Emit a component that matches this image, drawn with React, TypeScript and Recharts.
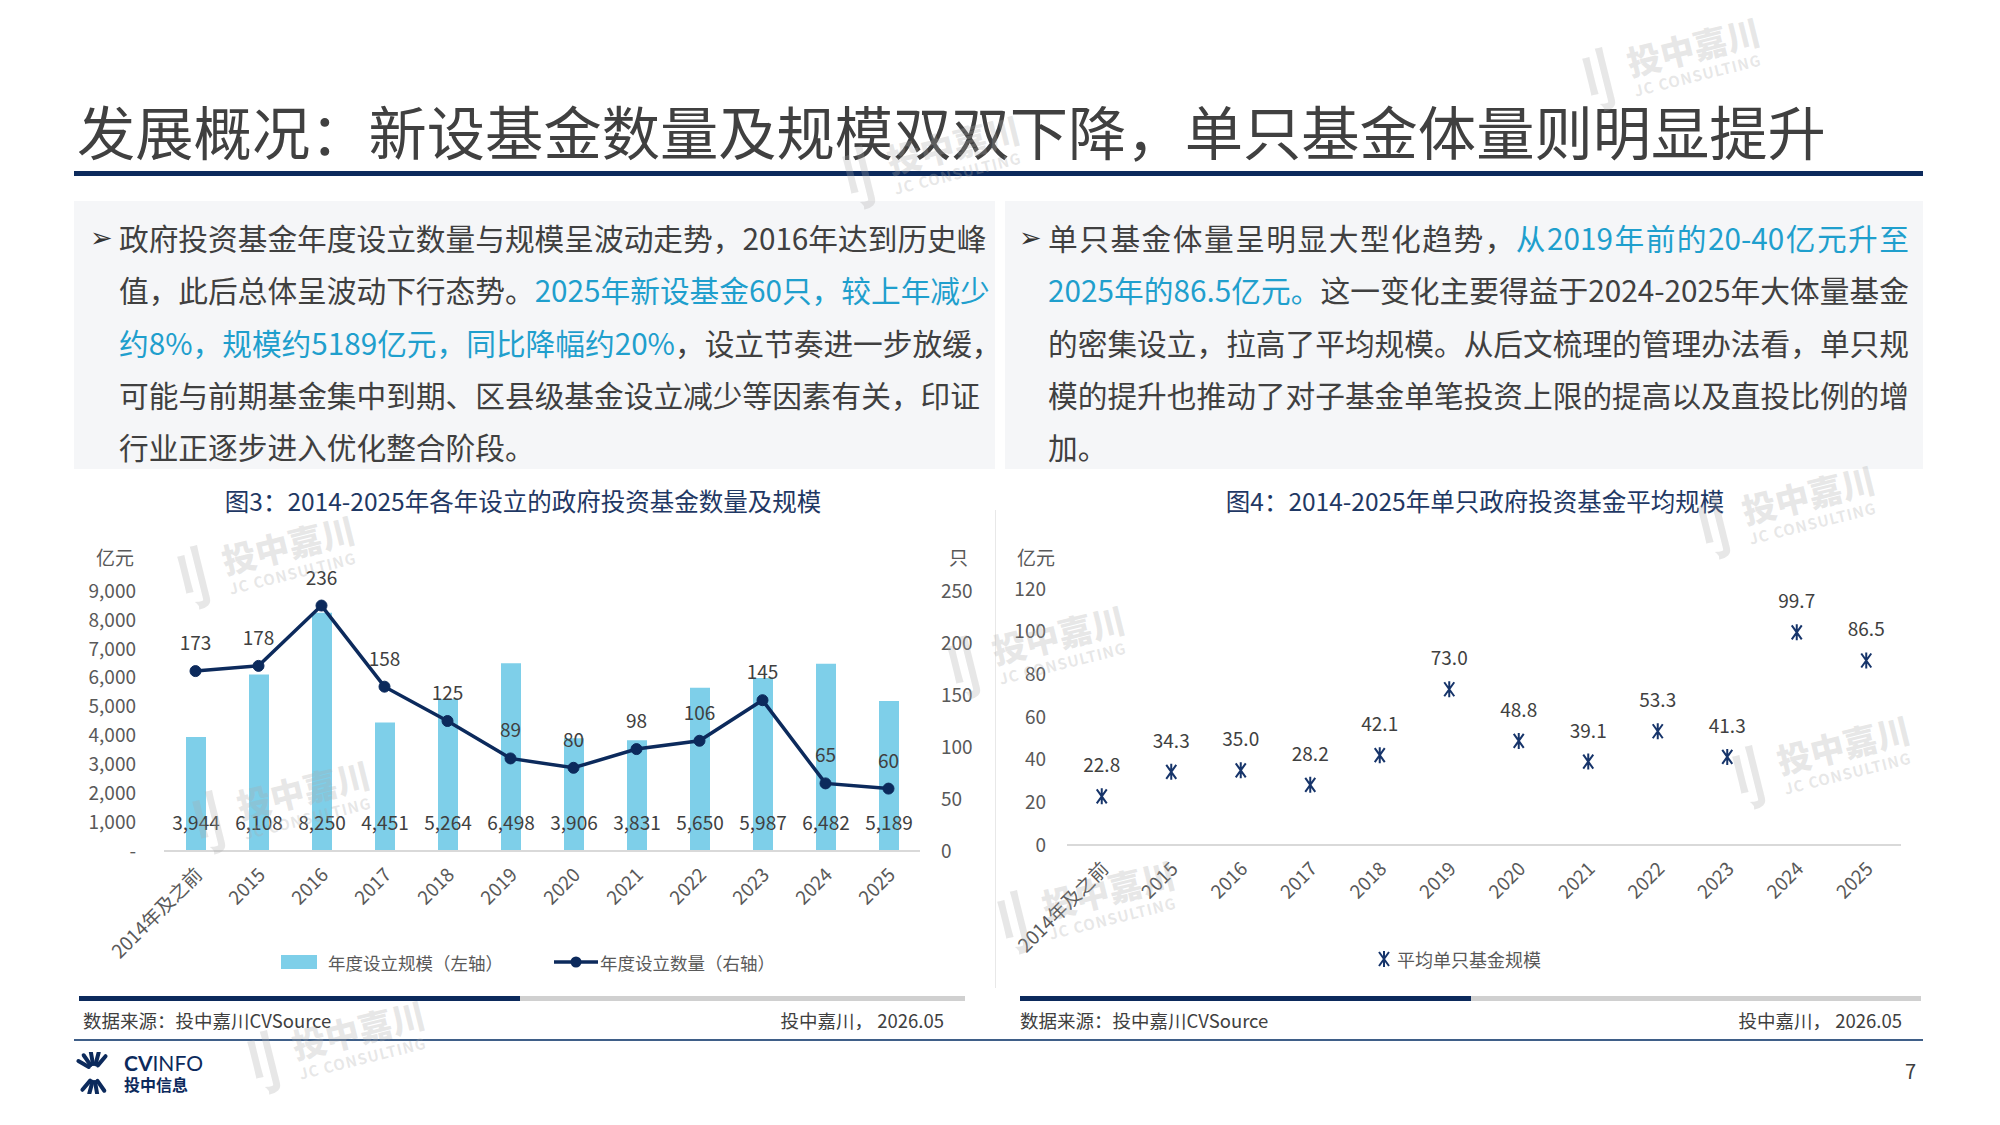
import React from 'react';
import { ComposedChart, Bar, Line, XAxis, YAxis, LabelList } from 'recharts';

const categories = ['2014年及之前', '2015', '2016', '2017', '2018', '2019', '2020', '2021', '2022', '2023', '2024', '2025'];
const fundScale = [3944, 6108, 8250, 4451, 5264, 6498, 3906, 3831, 5650, 5987, 6482, 5189];
const fundCount = [173, 178, 236, 158, 125, 89, 80, 98, 106, 145, 65, 60];
const avgScale = [22.8, 34.3, 35.0, 28.2, 42.1, 73.0, 48.8, 39.1, 53.3, 41.3, 99.7, 86.5];
const scaleTicks = [0, 1000, 2000, 3000, 4000, 5000, 6000, 7000, 8000, 9000];
const countTicks = [0, 50, 100, 150, 200, 250];
const avgTicks = [0, 20, 40, 60, 80, 100, 120];

const FONT = '"Noto Sans CJK SC", "Noto Sans", sans-serif';
const NAVY = '#0c2a5c';
const BAR_BLUE = '#7ecfe9';
const TEXT = '#404040';
const CYAN = '#1f9fcd';

const leftData = categories.map((name, i) => ({ name, scale: fundScale[i], count: fundCount[i] }));
const rightData = categories.map((name, i) => ({ name, avg: avgScale[i] }));

const RotTick = (props: any) => {
  const { x, y, payload } = props;
  const tx = x + 8;
  const ty = y + 25;
  return (
    <text x={tx} y={ty} transform={`rotate(-45 ${tx} ${ty})`} textAnchor="end" fontSize={19} fill="#595959">
      {payload.value}
    </text>
  );
};

const BarValueLabel = (p: any) => {
  const cx = Number(p.x) + Number(p.width) / 2;
  const base = Number(p.y) + Number(p.height);
  return (
    <text x={cx} y={base - 30} textAnchor="middle" dominantBaseline="central" fontSize={19} fill={TEXT}>
      {Number(p.value).toLocaleString('en-US')}
    </text>
  );
};

const StarDot = (p: any) => {
  const { cx, cy } = p;
  if (cx == null || cy == null) return null;
  return (
    <path
      key={`s-${cx}`}
      d={`M${cx - 5},${cy - 7}L${cx + 5},${cy + 7}M${cx + 5},${cy - 7}L${cx - 5},${cy + 7}M${cx},${cy - 8}L${cx},${cy + 8}`}
      stroke="#16346a"
      strokeWidth={2}
      fill="none"
    />
  );
};

const abs = (left: number, top: number, extra: React.CSSProperties = {}): React.CSSProperties => ({
  position: 'absolute',
  left,
  top,
  ...extra,
});

const Cyan = ({ children }: { children: React.ReactNode }) => <span style={{ color: CYAN }}>{children}</span>;

function TextBox({ left, width, lines }: { left: number; width: number; lines: React.ReactNode[] }) {
  return (
    <div style={abs(left + 45, 212, { width, fontSize: 29.7, lineHeight: '52.3px', color: TEXT })}>
      {lines.map((ln, i) => (
        <div key={i} style={{ whiteSpace: 'nowrap', textAlign: 'justify', textAlignLast: i < lines.length - 1 ? 'justify' : 'left' }}>
          {ln}
        </div>
      ))}
      <div style={abs(-29, 0, { fontSize: 27, fontFamily: '"DejaVu Sans", sans-serif', lineHeight: '52px', color: '#333' })}>➢</div>
    </div>
  );
}

function Watermark({ x, y, s = 1 }: { x: number; y: number; s?: number }) {
  return (
    <div
      style={abs(x - 110 * s, y - 40 * s, {
        transform: `rotate(-14deg) scale(${s})`,
        color: 'rgba(170,170,170,0.28)',
        pointerEvents: 'none',
        whiteSpace: 'nowrap',
        display: 'flex',
        alignItems: 'center',
      })}
    >
      <div style={{ fontSize: 64, fontWeight: 900, marginRight: 10, fontFamily: '"DejaVu Sans", sans-serif' }}>刂</div>
      <div>
        <div style={{ fontSize: 34, fontWeight: 900, lineHeight: '36px' }}>投中嘉川</div>
        <div style={{ fontSize: 15, fontWeight: 700, letterSpacing: 1 }}>JC CONSULTING</div>
      </div>
    </div>
  );
}

function Logo() {
  const rays = [-150, -125, -100, -75, -50, 130, 105, 80, 55];
  return (
    <div style={abs(74, 1052, { width: 140, height: 42 })}>
      <svg width={42} height={42} style={abs(0, 0)}>
        {rays.map((a, i) => {
          const r = (a * Math.PI) / 180;
          const cx = 20;
          const cy = i < 5 ? 18 : 24;
          return (
            <line
              key={i}
              x1={cx + Math.cos(r) * 6}
              y1={cy + Math.sin(r) * 6}
              x2={cx + Math.cos(r) * 18}
              y2={cy + Math.sin(r) * 18}
              stroke={NAVY}
              strokeWidth={4}
              strokeLinecap="round"
            />
          );
        })}
      </svg>
      <div style={abs(50, 0, { fontSize: 21, fontWeight: 700, color: NAVY, fontFamily: 'Lato, sans-serif', lineHeight: '22px' })}>
        CV<span style={{ fontWeight: 400 }}>INFO</span>
      </div>
      <div style={abs(50, 22, { fontSize: 16, fontWeight: 700, color: NAVY, lineHeight: '20px' })}>投中信息</div>
    </div>
  );
}

export default function App() {
  return (
    <div style={abs(0, 0, { width: 2000, height: 1125, background: '#fff', overflow: 'hidden', fontFamily: FONT })}>
      {/* title */}
      <div style={abs(77, 100, { fontSize: 58.3, lineHeight: '60px', color: TEXT, whiteSpace: 'nowrap' })}>
        发展概况：新设基金数量及规模双双下降，单只基金体量则明显提升
      </div>
      <div style={abs(74, 171, { width: 1849, height: 5, background: NAVY })} />

      {/* text boxes */}
      <div style={abs(74, 201, { width: 921, height: 268, background: '#f5f6f8' })} />
      <div style={abs(1005, 201, { width: 918, height: 268, background: '#f5f6f8' })} />
      <TextBox
        left={74}
        width={861}
        lines={[
          '政府投资基金年度设立数量与规模呈波动走势，2016年达到历史峰',
          <>值，此后总体呈波动下行态势。<Cyan>2025年新设基金60只，较上年减少</Cyan></>,
          <><Cyan>约8%，规模约5189亿元，同比降幅约20%</Cyan>，设立节奏进一步放缓，</>,
          '可能与前期基金集中到期、区县级基金设立减少等因素有关，印证',
          '行业正逐步进入优化整合阶段。',
        ]}
      />
      <TextBox
        left={1003}
        width={861}
        lines={[
          <>单只基金体量呈明显大型化趋势，<Cyan>从2019年前的20-40亿元升至</Cyan></>,
          <><Cyan>2025年的86.5亿元。</Cyan>这一变化主要得益于2024-2025年大体量基金</>,
          '的密集设立，拉高了平均规模。从后文梳理的管理办法看，单只规',
          '模的提升也推动了对子基金单笔投资上限的提高以及直投比例的增',
          '加。',
        ]}
      />

      {/* chart titles */}
      <div style={abs(73, 486, { width: 900, textAlign: 'center', fontSize: 24.5, lineHeight: '30px', color: '#1f3864' })}>
        图3：2014-2025年各年设立的政府投资基金数量及规模
      </div>
      <div style={abs(1025, 486, { width: 900, textAlign: 'center', fontSize: 24.5, lineHeight: '30px', color: '#1f3864' })}>
        图4：2014-2025年单只政府投资基金平均规模
      </div>

      <div style={abs(995, 510, { width: 1, height: 478, background: '#e8e8e8' })} />

      {/* left chart */}
      <div style={abs(96, 543, { fontSize: 19, color: '#595959' })}>亿元</div>
      <div style={abs(949, 543, { fontSize: 19, color: '#595959' })}>只</div>
      <div style={abs(80, 540)}>
        <ComposedChart width={900} height={430} data={leftData} margin={{ top: 51, right: 15, left: 24, bottom: 0 }} barSize={20}>
          <XAxis
            dataKey="name"
            interval={0}
            tick={<RotTick />}
            tickLine={false}
            tickSize={0}
            tickMargin={0}
            axisLine={{ stroke: '#d9d9d9', strokeWidth: 2 }}
            height={119}
            yAxisId="l"
          />
          <YAxis
            yAxisId="l"
            width={60}
            domain={[0, 9000]}
            ticks={scaleTicks}
            tickFormatter={(v: number) => (v === 0 ? '-' : v.toLocaleString('en-US'))}
            axisLine={false}
            tickLine={false}
            tickSize={0}
            tickMargin={28}
            tick={{ fontSize: 19, fill: '#595959' }}
            interval={0}
          />
          <YAxis
            yAxisId="r"
            orientation="right"
            width={45}
            domain={[0, 250]}
            ticks={countTicks}
            axisLine={false}
            tickLine={false}
            tickSize={0}
            tickMargin={21}
            tick={{ fontSize: 19, fill: '#595959', textAnchor: 'start' }}
            interval={0}
          />
          <Bar yAxisId="l" dataKey="scale" fill={BAR_BLUE} isAnimationActive={false}>
            <LabelList dataKey="scale" content={<BarValueLabel />} />
          </Bar>
          <Line
            yAxisId="r"
            dataKey="count"
            stroke={NAVY}
            strokeWidth={3.5}
            dot={{ r: 5.5, fill: NAVY, stroke: NAVY, strokeWidth: 1 }}
            activeDot={false}
            isAnimationActive={false}
          >
            <LabelList dataKey="count" position="top" offset={21} fontSize={19} fill={TEXT} />
          </Line>
        </ComposedChart>
      </div>

      {/* left legend */}
      <div style={abs(281, 955, { width: 36, height: 14, background: BAR_BLUE })} />
      <div style={abs(328, 950, { fontSize: 17.5, lineHeight: '26px', color: '#595959' })}>年度设立规模（左轴）</div>
      <svg width={44} height={14} style={abs(554, 955)}>
        <line x1={0} y1={7} x2={44} y2={7} stroke={NAVY} strokeWidth={3.5} />
        <circle cx={22} cy={7} r={5.5} fill={NAVY} />
      </svg>
      <div style={abs(600, 950, { fontSize: 17.5, lineHeight: '26px', color: '#595959' })}>年度设立数量（右轴）</div>

      {/* right chart */}
      <div style={abs(1017, 543, { fontSize: 19, color: '#595959' })}>亿元</div>
      <div style={abs(900, 540)}>
        <ComposedChart width={1030} height={430} data={rightData} margin={{ top: 49, right: 29, left: 117, bottom: 0 }}>
          <XAxis
            dataKey="name"
            scale="band"
            interval={0}
            tick={<RotTick />}
            tickLine={false}
            tickSize={0}
            tickMargin={0}
            axisLine={{ stroke: '#d9d9d9', strokeWidth: 2 }}
            height={125}
          />
          <YAxis
            width={50}
            domain={[0, 120]}
            ticks={avgTicks}
            axisLine={false}
            tickLine={false}
            tickSize={0}
            tickMargin={21}
            tick={{ fontSize: 19, fill: '#595959' }}
            interval={0}
          />
          <Line dataKey="avg" stroke="none" dot={<StarDot />} activeDot={false} isAnimationActive={false} legendType="none">
            <LabelList dataKey="avg" position="top" offset={24} fontSize={19} fill={TEXT} formatter={(v: any) => Number(v).toFixed(1)} />
          </Line>
        </ComposedChart>
      </div>

      {/* right legend */}
      <svg width={14} height={18} style={abs(1377, 950)}>
        <path d="M2,2L12,16M12,2L2,16M7,1L7,17" stroke="#16346a" strokeWidth={2} fill="none" />
      </svg>
      <div style={abs(1397, 946, { fontSize: 18, lineHeight: '26px', color: '#595959' })}>平均单只基金规模</div>

      {/* source bars */}
      <div style={abs(79, 996, { width: 441, height: 5, background: NAVY })} />
      <div style={abs(520, 996, { width: 445, height: 5, background: '#d0d0d0' })} />
      <div style={abs(1020, 996, { width: 451, height: 5, background: NAVY })} />
      <div style={abs(1471, 996, { width: 450, height: 5, background: '#d0d0d0' })} />
      <div style={abs(83, 1007, { fontSize: 18.5, lineHeight: '26px', color: TEXT })}>数据来源：投中嘉川CVSource</div>
      <div style={abs(544, 1007, { width: 400, textAlign: 'right', fontSize: 18.5, lineHeight: '26px', color: TEXT })}>投中嘉川， 2026.05</div>
      <div style={abs(1020, 1007, { fontSize: 18.5, lineHeight: '26px', color: TEXT })}>数据来源：投中嘉川CVSource</div>
      <div style={abs(1502, 1007, { width: 400, textAlign: 'right', fontSize: 18.5, lineHeight: '26px', color: TEXT })}>投中嘉川， 2026.05</div>

      <div style={abs(74, 1039, { width: 1849, height: 2, background: '#3f5f88' })} />
      <Logo />
      <div style={abs(1905, 1057, { fontSize: 20, lineHeight: '28px', color: TEXT })}>7</div>

      {/* watermarks */}
      <Watermark x={1665} y={62} />
      <Watermark x={925} y={160} />
      <Watermark x={260} y={560} />
      <Watermark x={1030} y={650} />
      <Watermark x={1780} y={510} />
      <Watermark x={1815} y={760} />
      <Watermark x={275} y={805} />
      <Watermark x={1080} y={905} />
      <Watermark x={330} y={1045} />
    </div>
  );
}
